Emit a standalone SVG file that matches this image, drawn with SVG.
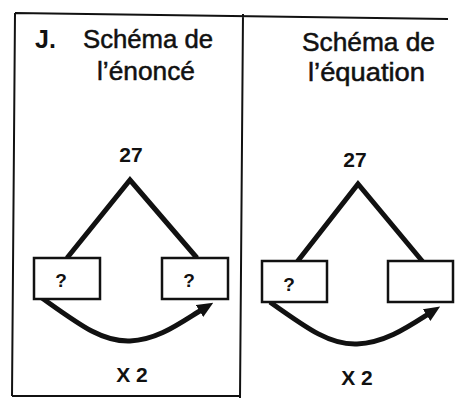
<svg xmlns="http://www.w3.org/2000/svg" width="457" height="398" viewBox="0 0 457 398">
<style>
text{font-family:"Liberation Sans",Arial,sans-serif;font-weight:bold;fill:#111}
.title{font-size:25px;font-weight:normal;stroke:#111;stroke-width:0.5}
.num{font-size:21px;text-anchor:middle}
.q{font-size:19px;text-anchor:middle}
.frame{stroke:#111;stroke-width:2;fill:none}
.box{stroke:#111;stroke-width:2.5;fill:#fff}
.leg{stroke:#111;stroke-width:5;fill:none;stroke-linecap:butt}
.arc{stroke:#111;stroke-width:5;fill:none;marker-end:url(#ah)}
</style>
<defs>
<marker id="ah" markerUnits="userSpaceOnUse" markerWidth="16" markerHeight="16" refX="4" refY="8" orient="auto">
<path d="M0,1 L16,8 L0,15 z" fill="#111"/>
</marker>
</defs>
<rect width="457" height="398" fill="#fff"/>
<g id="frame">
<path class="frame" d="M15,13 L448,19 M15,13 L12,396 M12,396 L240,396 M243,14 L240,398"/>
</g>
<g id="title-left">
<text class="title" x="35" y="48" style="font-weight:bold;stroke:none">J.</text>
<text class="title" x="83" y="48" textLength="130" lengthAdjust="spacingAndGlyphs">Schéma de</text>
<text class="title" x="97" y="80" textLength="98" lengthAdjust="spacingAndGlyphs">l’énoncé</text>
</g>
<g id="title-right">
<text class="title" x="302" y="51" textLength="133" lengthAdjust="spacingAndGlyphs">Schéma de</text>
<text class="title" x="308" y="81" textLength="117" lengthAdjust="spacingAndGlyphs">l’équation</text>
</g>
<g id="connectors">
<path class="leg" d="M67,258 L130,180 L197,258"/>
<path class="leg" d="M297,262 L358,184 L423,262"/>
<path class="arc" d="M42,298 C80,325 102,342 130,341 C158,340 180,323 203,309"/>
<path class="arc" d="M270,302 C308,329 330,345 357,344 C385,343 408,327 430,313"/>
</g>
<g id="total-left"><text class="num" x="131" y="162">27</text></g>
<g id="total-right"><text class="num" x="355" y="167">27</text></g>
<g id="box-left-1"><rect class="box" x="34" y="258" width="66" height="41"/><text class="q" x="61" y="287">?</text></g>
<g id="box-left-2"><rect class="box" x="162" y="258" width="66" height="41"/><text class="q" x="189" y="287">?</text></g>
<g id="box-right-1"><rect class="box" x="262" y="261" width="65" height="41"/><text class="q" x="289" y="291">?</text></g>
<g id="box-right-2"><rect class="box" x="388" y="261" width="65" height="41"/></g>
<g id="factor-left"><text class="num" x="132" y="382">X 2</text></g>
<g id="factor-right"><text class="num" x="357" y="385">X 2</text></g>
</svg>
